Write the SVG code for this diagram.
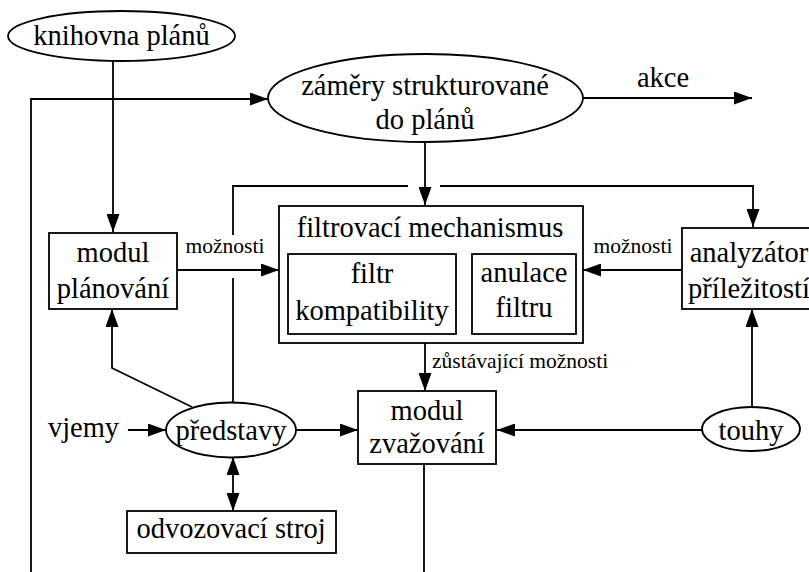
<svg xmlns="http://www.w3.org/2000/svg" width="809" height="572" viewBox="0 0 809 572">
  <style>
    .shape { fill: #fff; stroke: #000; stroke-width: 1.8; }
    .edge { fill: none; stroke: #000; stroke-width: 1.8; }
  </style>
  <defs>
    <marker id="arrow" markerUnits="userSpaceOnUse" markerWidth="18" markerHeight="13" refX="18" refY="6.5" orient="auto-start-reverse">
      <path d="M0,0 L18,6.5 L0,13 Z" fill="#000"/>
    </marker>
  </defs>

  <rect width="809" height="572" fill="#fff"/>

  <!-- connectors -->
  <g id="connectors">
    <path class="edge" d="M113,61 V232" marker-end="url(#arrow)"/>
    <path class="edge" d="M31,580 V99 H268" marker-end="url(#arrow)"/>
    <path class="edge" d="M583,98 H752" marker-end="url(#arrow)"/>
    <path class="edge" d="M425,142 V205" marker-end="url(#arrow)"/>
    <!-- představy up and over to the opportunity analyser, broken at crossings -->
    <path class="edge" d="M233,402 V278"/>
    <path class="edge" d="M233,235 V186 H408"/>
    <path class="edge" d="M440,186 H753 V227" marker-end="url(#arrow)"/>
    <path class="edge" d="M177,270 H279" marker-end="url(#arrow)"/>
    <path class="edge" d="M682,270 H583" marker-end="url(#arrow)"/>
    <path class="edge" d="M425,343 V391" marker-end="url(#arrow)"/>
    <path class="edge" d="M752,407 V309" marker-end="url(#arrow)"/>
    <path class="edge" d="M702,430 H497" marker-end="url(#arrow)"/>
    <path class="edge" d="M128,430 H166" marker-end="url(#arrow)"/>
    <path class="edge" d="M296,430 H358" marker-end="url(#arrow)"/>
    <path class="edge" d="M233,457 V511" marker-start="url(#arrow)" marker-end="url(#arrow)"/>
    <path class="edge" d="M192,407 L112,368 V309" marker-end="url(#arrow)"/>
    <path class="edge" d="M424,464 V580"/>

    <text x="225" y="253" font-family="Liberation Serif" font-size="21.5" text-anchor="middle">možnosti</text>
    <text x="633" y="253" font-family="Liberation Serif" font-size="21.5" text-anchor="middle">možnosti</text>
    <text x="432" y="368" font-family="Liberation Serif" font-size="21.5">zůstávající možnosti</text>
    <text x="663" y="87" font-family="Liberation Serif" font-size="28.5" text-anchor="middle">akce</text>
    <text x="83.5" y="437" font-family="Liberation Serif" font-size="28.5" text-anchor="middle">vjemy</text>
  </g>

  <g id="knihovna-planu">
    <ellipse class="shape" cx="121.5" cy="36" rx="113.5" ry="25"/>
    <text x="121.5" y="45" font-family="Liberation Serif" font-size="28.5" text-anchor="middle">knihovna plánů</text>
  </g>

  <g id="zamery">
    <ellipse class="shape" cx="425.5" cy="98" rx="157.5" ry="44"/>
    <text x="425" y="95" font-family="Liberation Serif" font-size="28.5" text-anchor="middle">záměry strukturované</text>
    <text x="425" y="129" font-family="Liberation Serif" font-size="28.5" text-anchor="middle">do plánů</text>
  </g>

  <g id="modul-planovani">
    <rect class="shape" x="49" y="233" width="128" height="76"/>
    <text x="113" y="262" font-family="Liberation Serif" font-size="28.5" text-anchor="middle">modul</text>
    <text x="113" y="298" font-family="Liberation Serif" font-size="28.5" text-anchor="middle">plánování</text>
  </g>

  <g id="filtrovaci-mechanismus">
    <rect class="shape" x="279" y="206" width="304" height="137"/>
    <text x="430" y="237" font-family="Liberation Serif" font-size="28.5" text-anchor="middle">filtrovací mechanismus</text>
    <g id="filtr-kompatibility">
      <rect class="shape" x="288" y="254" width="168" height="80"/>
      <text x="372" y="283" font-family="Liberation Serif" font-size="28.5" text-anchor="middle">filtr</text>
      <text x="372" y="320" font-family="Liberation Serif" font-size="28.5" text-anchor="middle">kompatibility</text>
    </g>
    <g id="anulace-filtru">
      <rect class="shape" x="472" y="254" width="104" height="80"/>
      <text x="524" y="282" font-family="Liberation Serif" font-size="28.5" text-anchor="middle">anulace</text>
      <text x="524" y="317" font-family="Liberation Serif" font-size="28.5" text-anchor="middle">filtru</text>
    </g>
  </g>

  <g id="analyzator">
    <rect class="shape" x="682" y="228" width="136" height="81"/>
    <text x="749" y="262" font-family="Liberation Serif" font-size="28.5" text-anchor="middle">analyzátor</text>
    <text x="749" y="298" font-family="Liberation Serif" font-size="28.5" text-anchor="middle">příležitostí</text>
  </g>

  <g id="modul-zvazovani">
    <rect class="shape" x="358" y="391" width="138" height="73"/>
    <text x="427" y="420" font-family="Liberation Serif" font-size="28.5" text-anchor="middle">modul</text>
    <text x="427" y="453" font-family="Liberation Serif" font-size="28.5" text-anchor="middle">zvažování</text>
  </g>

  <g id="predstavy">
    <ellipse class="shape" cx="231" cy="430" rx="65" ry="27.5"/>
    <text x="231" y="440" font-family="Liberation Serif" font-size="28.5" text-anchor="middle">představy</text>
  </g>

  <g id="touhy">
    <ellipse class="shape" cx="751" cy="429" rx="49" ry="22"/>
    <text x="751" y="440" font-family="Liberation Serif" font-size="28.5" text-anchor="middle">touhy</text>
  </g>

  <g id="odvozovaci-stroj">
    <rect class="shape" x="127" y="511" width="209" height="42"/>
    <text x="231" y="538" font-family="Liberation Serif" font-size="28.5" text-anchor="middle">odvozovací stroj</text>
  </g>
</svg>
